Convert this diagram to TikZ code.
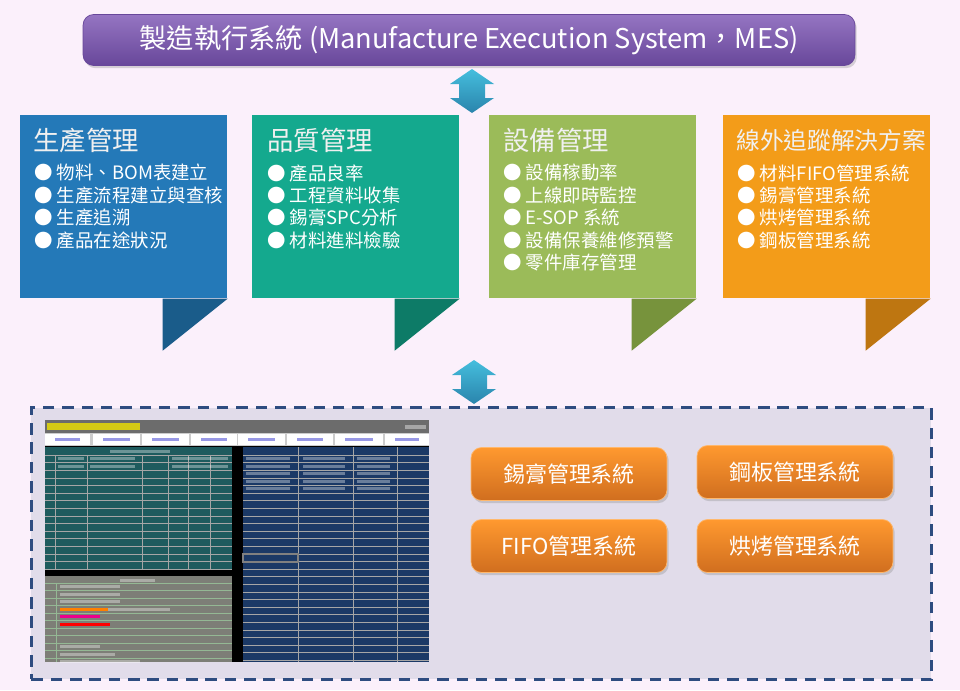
\documentclass[tikz,border=0pt]{standalone}
\usepackage{fontspec}
\setmainfont{Noto Sans CJK TC}
\usepackage{xcolor}
\usetikzlibrary{positioning, calc, shadows, backgrounds}

\definecolor{pageBg}{HTML}{FBF0FB}
\definecolor{mesTop}{HTML}{9575C2}
\definecolor{mesBot}{HTML}{68479A}
\definecolor{arrTop}{HTML}{45BEDD}
\definecolor{arrBot}{HTML}{2A84AC}
\definecolor{prodBody}{HTML}{2479B8}
\definecolor{prodTail}{HTML}{1A5C8A}
\definecolor{qualBody}{HTML}{14A98E}
\definecolor{qualTail}{HTML}{0D7B67}
\definecolor{equipBody}{HTML}{9BBB59}
\definecolor{equipTail}{HTML}{77933C}
\definecolor{offBody}{HTML}{F39C19}
\definecolor{offTail}{HTML}{BE7611}
\definecolor{platBg}{HTML}{E1DCEA}
\definecolor{platLine}{HTML}{2E4C80}
\definecolor{btnTop}{HTML}{FF992F}
\definecolor{btnBot}{HTML}{D06E1F}
\definecolor{shotTeal}{HTML}{1E5B5E}
\definecolor{shotNavy}{HTML}{1B3966}
\definecolor{shotGrey}{HTML}{7D7E77}

\begin{document}
\begin{tikzpicture}[
    x=0.02cm, y=-0.02cm,
    card/.style={
        anchor=north west,
        minimum width=4.14cm,
        minimum height=3.66cm,
        inner sep=0pt
    },
    cardtitle/.style={
        anchor=west,
        inner sep=0pt,
        text=white!88!gray,
        font=\fontsize{15}{18}\selectfont
    },
    cardlist/.style={
        anchor=north west,
        inner sep=0pt,
        align=left,
        text=white,
        font=\fontsize{10.5}{12.75}\selectfont
    },
    sysbtn/.style={
        rounded corners=6pt,
        top color=btnTop,
        bottom color=btnBot,
        draw=btnTop!70!white,
        minimum width=3.92cm,
        minimum height=1.06cm,
        text=white,
        font=\fontsize{12.5}{15}\selectfont,
        drop shadow={shadow xshift=1pt, shadow yshift=-1.5pt, opacity=.3}
    },
    blur/.style={fill=white, opacity=.35},
    pics/updown/.style={code={
        \path[top color=arrTop, bottom color=arrBot]
            (0,-22) -- (22,-7) -- (13,-7) -- (13,7) -- (22,7) -- (0,22)
            -- (-22,7) -- (-13,7) -- (-13,-7) -- (-22,-7) -- cycle;
    }}
]
  \useasboundingbox (0,0) rectangle (960,690);
  \fill[pageBg] (0,0) rectangle (960,690);

  % top bar
  \node[rounded corners=6pt, top color=mesTop, bottom color=mesBot, draw=mesBot,
        minimum width=15.44cm, minimum height=1.02cm, text=white,
        font=\fontsize{15.5}{18}\selectfont,
        drop shadow={shadow xshift=1pt, shadow yshift=-1.5pt, opacity=.3}]
        (mes) at (469,40) {製造執行系統 (Manufacture Execution System，MES)};

  \pic (arrA) at (472,91) {updown};

  % four cards
  \node[card, fill=prodBody] (prod) at (20,115) {};
  \node[card, fill=qualBody] (qual) at (252,115) {};
  \node[card, fill=equipBody] (equip) at (489,115) {};
  \node[card, fill=offBody] (off) at (723,115) {};

  \fill[prodTail] (prod.south east) -- ++(-65,0) -- ++(0,52) -- cycle;
  \fill[qualTail] (qual.south east) -- ++(-65,0) -- ++(0,52) -- cycle;
  \fill[equipTail] (equip.south east) -- ++(-65,0) -- ++(0,52) -- cycle;
  \fill[offTail] (off.south east) -- ++(-65,0) -- ++(0,52) -- cycle;

  \node[cardtitle] (prodT) at ($(prod.north west)+(13,25)$) {生產管理};
  \node[cardtitle] (qualT) at ($(qual.north west)+(15,25)$) {品質管理};
  \node[cardtitle] (equipT) at ($(equip.north west)+(14,25)$) {設備管理};
  \node[cardtitle, font=\fontsize{13.5}{16}\selectfont] (offT) at ($(off.north west)+(13,25)$) {線外追蹤解決方案};

  \node[cardlist] (prodL) at ($(prod.north west)+(14,49)$)
    {● 物料、BOM表建立\\● 生產流程建立與查核\\● 生產追溯\\● 產品在途狀況};
  \node[cardlist] (qualL) at ($(qual.north west)+(15,49)$)
    {● 產品良率\\● 工程資料收集\\● 錫膏SPC分析\\● 材料進料檢驗};
  \node[cardlist] (equipL) at ($(equip.north west)+(14,49)$)
    {● 設備稼動率\\● 上線即時監控\\● E-SOP 系統\\● 設備保養維修預警\\● 零件庫存管理};
  \node[cardlist] (offL) at ($(off.north west)+(14,49)$)
    {● 材料FIFO管理系統\\● 錫膏管理系統\\● 烘烤管理系統\\● 鋼板管理系統};

  \pic (arrB) at (474,382) {updown};

  % platform panel
  \node[anchor=north west, fill=platBg, draw=platLine, line width=1.7pt,
        dash pattern=on 6.5pt off 4.5pt, minimum width=18cm, minimum height=5.44cm]
        (plat) at (30,406) {};

  % screenshot
  \node[anchor=north west, fill=black, inner sep=0pt,
        minimum width=7.68cm, minimum height=4.84cm] (shot) at (45,420) {};
  \fill[gray!85!black] (45,420) rectangle (429,433);
  \fill[yellow!85!olive, opacity=.8] (47,423) rectangle (140,430);
  \fill[white, opacity=.4] (405,425) rectangle (426,429);
  \fill[gray!40] (45,433) rectangle (429,446);
  \foreach \bx/\bw in {45/45, 93/47, 142/47, 191/46, 238/47, 287/46, 335/48, 385/44}
    {\fill[white] (\bx,434) rectangle ++(\bw,11);
     \fill[blue!60!gray, opacity=.5] ($(\bx,438)+(10,0)$) rectangle ++(\bw-20,3);}
  % teal table
  \fill[shotTeal] (45,447) rectangle (232,570);
  \foreach \k in {0,...,15}
    \draw[gray!70, line width=.3pt] (45,455+\k*7.6) -- (232,455+\k*7.6);
  \foreach \cx in {55, 87, 142, 168, 188, 210}
    \draw[gray!70, line width=.3pt] (\cx,455) -- (\cx,570);
  \fill[blur] (110,449.5) rectangle (170,452.5);
  \foreach \r in {0,1}
    {\fill[blur] (58,457+\r*7.6) rectangle (84,460+\r*7.6);
     \fill[blur] (90,457+\r*7.6) rectangle (135,460+\r*7.6);
     \fill[blur] (172,457+\r*7.6) rectangle (228,460+\r*7.6);}
  % grey table
  \fill[shotGrey] (45,576) rectangle (232,662);
  \foreach \k in {0,...,10}
    \draw[green!20!gray!70, line width=.3pt] (45,583+\k*7.5) -- (232,583+\k*7.5);
  \draw[green!20!gray!70, line width=.3pt] (56,583) -- (56,662);
  \fill[blur] (120,578.5) rectangle (155,581.5);
  \foreach \r/\w in {0/60, 1/60, 2/60, 3/110, 8/40, 9/55, 10/80}
    \fill[blur] (60,585+\r*7.5) rectangle ++(\w,3);
  \fill[orange] (60,607.5) rectangle ++(48,3);
  \fill[magenta] (60,615) rectangle ++(40,3);
  \fill[red] (60,622.5) rectangle ++(50,3);
  % navy table
  \fill[shotNavy] (243,447) rectangle (429,662);
  \foreach \k in {0,...,27}
    \draw[gray!70, line width=.3pt] (243,455+\k*7.6) -- (429,455+\k*7.6);
  \foreach \cx in {298, 353, 397}
    \draw[gray!70, line width=.3pt] (\cx,447) -- (\cx,662);
  \foreach \r in {0,...,4}
    {\fill[blur] (246,457+\r*7.6) rectangle (290,460+\r*7.6);
     \fill[blur] (303,457+\r*7.6) rectangle (345,460+\r*7.6);
     \fill[blur] (357,457+\r*7.6) rectangle (390,460+\r*7.6);}
  \draw[gray, line width=.6pt] (243,554) rectangle (298,562);

  % four subsystems
  \node[sysbtn] (btnSolder) at (569,474) {錫膏管理系統};
  \node[sysbtn] (btnStencil) at (795,472) {鋼板管理系統};
  \node[sysbtn] (btnFifo) at (569,546) {FIFO管理系統};
  \node[sysbtn] (btnBake) at (795,546) {烘烤管理系統};
\end{tikzpicture}
\end{document}
